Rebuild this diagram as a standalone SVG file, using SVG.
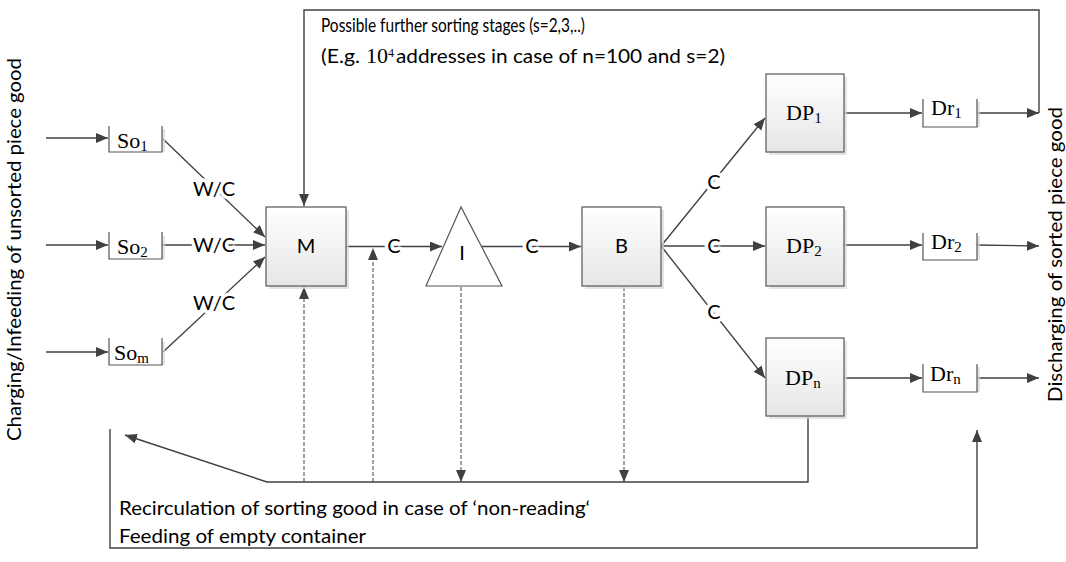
<svg xmlns="http://www.w3.org/2000/svg" width="1066" height="562" viewBox="0 0 1066 562">
<defs>
<linearGradient id="fillg" x1="0" y1="0" x2="0" y2="1">
<stop offset="0" stop-color="#ffffff"/>
<stop offset="1" stop-color="#e6e6e6"/>
</linearGradient>
<marker id="ah" markerUnits="userSpaceOnUse" markerWidth="13" markerHeight="11" refX="12" refY="5" orient="auto">
<path d="M0,0 L12,5 L0,10 Z" fill="#404040"/>
</marker>
<style>
.ln { fill: none; stroke: #404040; stroke-width: 1.4; }
.dl { fill: none; stroke: #555; stroke-width: 1.1; stroke-dasharray: 4 2; }
.box { fill: url(#fillg); stroke: #555; stroke-width: 1.2; }
.sh { fill: #d9d9d9; opacity: 0.7; }
.ob { fill: #fff; stroke: #555; stroke-width: 1.2; }
.t { font-family: Lato, "Open Sans", sans-serif; font-size: 20px; fill: #000; }
.s { font-family: "Liberation Serif", "DejaVu Serif", serif; font-size: 22px; fill: #000; }
.sub { font-size: 15px; }
.lbl { paint-order: stroke; stroke: #fff; stroke-width: 7px; stroke-linejoin: round; text-anchor: middle; }
.mid { text-anchor: middle; }
</style>
</defs>
<rect width="1066" height="562" fill="#fff"/>

<g id="connectors">
<path class="ln" d="M46,138 H108" marker-end="url(#ah)"/>
<path class="ln" d="M46,245 H108" marker-end="url(#ah)"/>
<path class="ln" d="M46,352 H108" marker-end="url(#ah)"/>
<path class="ln" d="M163,139 L265,237" marker-end="url(#ah)"/>
<path class="ln" d="M162,245 H265" marker-end="url(#ah)"/>
<path class="ln" d="M163,352 L265,257" marker-end="url(#ah)"/>
<path class="ln" d="M1039,113 V10 H304 V206" marker-end="url(#ah)"/>
<path class="ln" d="M346,246.5 H442" marker-end="url(#ah)"/>
<path class="ln" d="M481,246.5 H581" marker-end="url(#ah)"/>
<path class="ln" d="M661,246 L765,118" marker-end="url(#ah)"/>
<path class="ln" d="M661,246 H765" marker-end="url(#ah)"/>
<path class="ln" d="M661,246 L765,378" marker-end="url(#ah)"/>
<path class="ln" d="M844,113 H922" marker-end="url(#ah)"/>
<path class="ln" d="M977,113 H1039" marker-end="url(#ah)"/>
<path class="ln" d="M844,245 H922" marker-end="url(#ah)"/>
<path class="ln" d="M977,245 L1039,246" marker-end="url(#ah)"/>
<path class="ln" d="M844,378 H922" marker-end="url(#ah)"/>
<path class="ln" d="M977,378 H1039" marker-end="url(#ah)"/>
<path class="dl" d="M304,482 V287" marker-end="url(#ah)"/>
<path class="dl" d="M373,482 V248" marker-end="url(#ah)"/>
<path class="dl" d="M461,287 V482" marker-end="url(#ah)"/>
<path class="dl" d="M624,287 V482" marker-end="url(#ah)"/>
<path class="ln" d="M808,417 V482 H267 L125,435" marker-end="url(#ah)"/>
<path class="ln" d="M110,429 V548 H977 V430" marker-end="url(#ah)"/>
<text class="t lbl" x="214" y="196">W/C</text>
<text class="t lbl" x="214" y="252">W/C</text>
<text class="t lbl" x="214" y="310">W/C</text>
<text class="t lbl" x="394" y="253">C</text>
<text class="t lbl" x="532" y="253">C</text>
<text class="t lbl" x="714" y="189">C</text>
<text class="t lbl" x="714" y="253">C</text>
<text class="t lbl" x="714" y="319">C</text>
</g>

<g id="so1">
<path class="sh" d="M112,152 H165 V129 H162 V152 Z"/>
<path class="ob" d="M109,126 V152 H162 V126"/>
<text class="s" x="117" y="148">So<tspan class="sub" dy="3">1</tspan></text>
</g>
<g id="so2">
<path class="sh" d="M112,259 H165 V236 H162 V259 Z"/>
<path class="ob" d="M109,232 V259 H162 V232"/>
<text class="s" x="117" y="254">So<tspan class="sub" dy="3">2</tspan></text>
</g>
<g id="som">
<path class="sh" d="M112,365 H165 V342 H162 V365 Z"/>
<path class="ob" d="M109,338 V365 H162 V338"/>
<text class="s" x="114" y="360">So<tspan class="sub" dy="3">m</tspan></text>
</g>

<g id="M">
<rect class="sh" x="269" y="210" width="80" height="79"/>
<rect class="box" x="266" y="207" width="80" height="79"/>
<text class="t mid" x="306" y="253">M</text>
</g>

<g id="I">
<path d="M461,207 L426,286 H502 Z" fill="#fff" stroke="#555" stroke-width="1.2"/>
<text class="t mid" x="462" y="260">I</text>
</g>

<g id="B">
<rect class="sh" x="585" y="210" width="79" height="79"/>
<rect class="box" x="582" y="207" width="79" height="79"/>
<text class="t mid" x="621.5" y="253">B</text>
</g>

<g id="DP1">
<rect class="sh" x="769" y="77" width="78" height="78"/>
<rect class="box" x="766" y="74" width="78" height="78"/>
<text class="s" x="786" y="120">DP<tspan class="sub" dy="3">1</tspan></text>
</g>
<g id="DP2">
<rect class="sh" x="769" y="210" width="78" height="79"/>
<rect class="box" x="766" y="207" width="78" height="79"/>
<text class="s" x="786" y="253">DP<tspan class="sub" dy="3">2</tspan></text>
</g>
<g id="DPn">
<rect class="sh" x="769" y="341" width="78" height="78"/>
<rect class="box" x="766" y="338" width="78" height="78"/>
<text class="s" x="785" y="385">DP<tspan class="sub" dy="3">n</tspan></text>
</g>

<g id="Dr1">
<path class="sh" d="M926,127 H980 V102 H977 V127 Z"/>
<path class="ob" d="M923,99 V127 H977 V99"/>
<text class="s" x="931" y="115">Dr<tspan class="sub" dy="3">1</tspan></text>
</g>
<g id="Dr2">
<path class="sh" d="M926,260 H980 V236 H977 V260 Z"/>
<path class="ob" d="M923,233 V260 H977 V233"/>
<text class="s" x="931" y="249">Dr<tspan class="sub" dy="3">2</tspan></text>
</g>
<g id="Drn">
<path class="sh" d="M926,392 H980 V367 H977 V392 Z"/>
<path class="ob" d="M923,364 V392 H977 V364"/>
<text class="s" x="930" y="381">Dr<tspan class="sub" dy="3">n</tspan></text>
</g>

<g id="texts">
<text class="t" x="321" y="32" textLength="264" lengthAdjust="spacingAndGlyphs">Possible further sorting stages (s=2,3,..)</text>
<text class="t" x="321" y="63" textLength="39" lengthAdjust="spacingAndGlyphs">(E.g.</text>
<text class="s" x="366" y="63" font-size="20">10<tspan font-size="12" dy="-6">4</tspan></text>
<text class="t" x="396" y="63" textLength="329" lengthAdjust="spacingAndGlyphs">addresses in case of n=100 and s=2)</text>
<text class="t" x="119" y="515" textLength="471" lengthAdjust="spacingAndGlyphs">Recirculation of sorting good in case of ‘non-reading‘</text>
<text class="t" x="119" y="543" textLength="247" lengthAdjust="spacingAndGlyphs">Feeding of empty container</text>
<text class="t" transform="translate(21,441) rotate(-90)" x="0" y="0" textLength="383" lengthAdjust="spacingAndGlyphs">Charging/Infeeding of unsorted piece good</text>
<text class="t" transform="translate(1062,402) rotate(-90)" x="0" y="0" textLength="295" lengthAdjust="spacingAndGlyphs">Discharging of sorted piece good</text>
</g>
</svg>
